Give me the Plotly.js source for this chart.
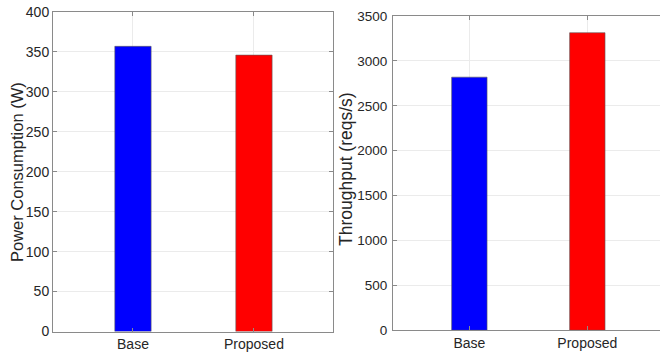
<!DOCTYPE html>
<html>
<head>
<meta charset="utf-8">
<script src="https://cdn.plot.ly/plotly-3.0.1.min.js"></script>
<style>
  html, body { margin: 0; padding: 0; background: #ffffff; }
  #chart { width: 660px; height: 358px; }
</style>
</head>
<body>
<div id="chart"></div>
<script>
// Configurations compared in both panels
const categories = ['Base', 'Proposed'];
const barColors = ['#0000ff', '#ff0000'];

// Left panel: power draw in watts
const powerValues = [357, 346];
const powerTicks = [0, 50, 100, 150, 200, 250, 300, 350, 400];
const powerTitle = 'Power Consumption (W)';

// Right panel: served requests per second
const throughputValues = [2820, 3315];
const throughputTicks = [0, 500, 1000, 1500, 2000, 2500, 3000, 3500];
const throughputTitle = 'Throughput (reqs/s)';

const textColor = '#262626';
const boxColor = '#8a8a8a';
const gridColor = '#ebebeb';
const fontFamily = 'Liberation Sans, Arial, Helvetica, sans-serif';
const narrowFamily = 'Liberation Sans Narrow, Arial Narrow, Liberation Sans, Arial, sans-serif';

const traces = [
  {
    type: 'bar', x: categories, y: powerValues, width: 0.3,
    marker: { color: barColors, line: { color: '#5a5a5a', width: 0.6 } },
    xaxis: 'x', yaxis: 'y', hoverinfo: 'x+y'
  },
  {
    type: 'bar', x: categories, y: throughputValues, width: 0.3,
    marker: { color: barColors, line: { color: '#5a5a5a', width: 0.6 } },
    xaxis: 'x2', yaxis: 'y2', hoverinfo: 'x+y'
  }
];

const xCommon = {
  type: 'category',
  showline: true, linecolor: boxColor, linewidth: 1,
  ticks: 'inside', ticklen: 4, tickcolor: boxColor,
  showgrid: true, gridcolor: gridColor, gridwidth: 1,
  zeroline: false,
  tickfont: { family: fontFamily, size: 14, color: textColor },
  fixedrange: true
};
const yCommon = {
  showline: true, linecolor: boxColor, linewidth: 1,
  ticks: 'inside', ticklen: 4, tickcolor: boxColor,
  showgrid: true, gridcolor: gridColor, gridwidth: 1,
  zeroline: false,
  tickfont: { family: fontFamily, size: 14, color: textColor },
  tickmode: 'array',
  fixedrange: true
};

// Vertical axis titles, placed beside each panel's tick labels
const titleAnnotation = (text, xPos, yPos, size) => ({
  text: text, xref: 'paper', yref: 'paper', x: xPos, y: yPos,
  xanchor: 'center', yanchor: 'middle', textangle: -90, showarrow: false,
  font: { family: fontFamily, size: size, color: textColor }
});

const layout = {
  width: 660, height: 358,
  margin: { l: 0, r: 0, t: 0, b: 0 },
  paper_bgcolor: '#ffffff', plot_bgcolor: '#ffffff',
  showlegend: false,
  font: { family: fontFamily, color: textColor },
  xaxis: Object.assign({}, xCommon, {
    domain: [0.0803, 0.5045], range: [-0.661, 1.653],
    anchor: 'y', mirror: 'ticks'
  }),
  yaxis: Object.assign({}, yCommon, {
    domain: [0.074, 0.9665], range: [0, 400],
    tickvals: powerTicks, anchor: 'x', mirror: 'ticks'
  }),
  xaxis2: Object.assign({}, xCommon, {
    domain: [0.5955, 1.0], range: [-0.647, 1.616],
    anchor: 'y2', mirror: 'ticks'
  }),
  yaxis2: Object.assign({}, yCommon, {
    domain: [0.0774, 0.955], range: [0, 3500],
    tickvals: throughputTicks, anchor: 'x2', mirror: false,
    ticklabelstandoff: 2,
    tickfont: { family: narrowFamily, size: 13.5, color: textColor }
  }),
  annotations: [
    titleAnnotation(powerTitle, 17 / 660, 1 - 172 / 358, 16.5),
    titleAnnotation(throughputTitle, 346 / 660, 1 - 169 / 358, 17.5)
  ]
};

Plotly.newPlot('chart', traces, layout, { displayModeBar: false, staticPlot: true });
</script>
</body>
</html>
